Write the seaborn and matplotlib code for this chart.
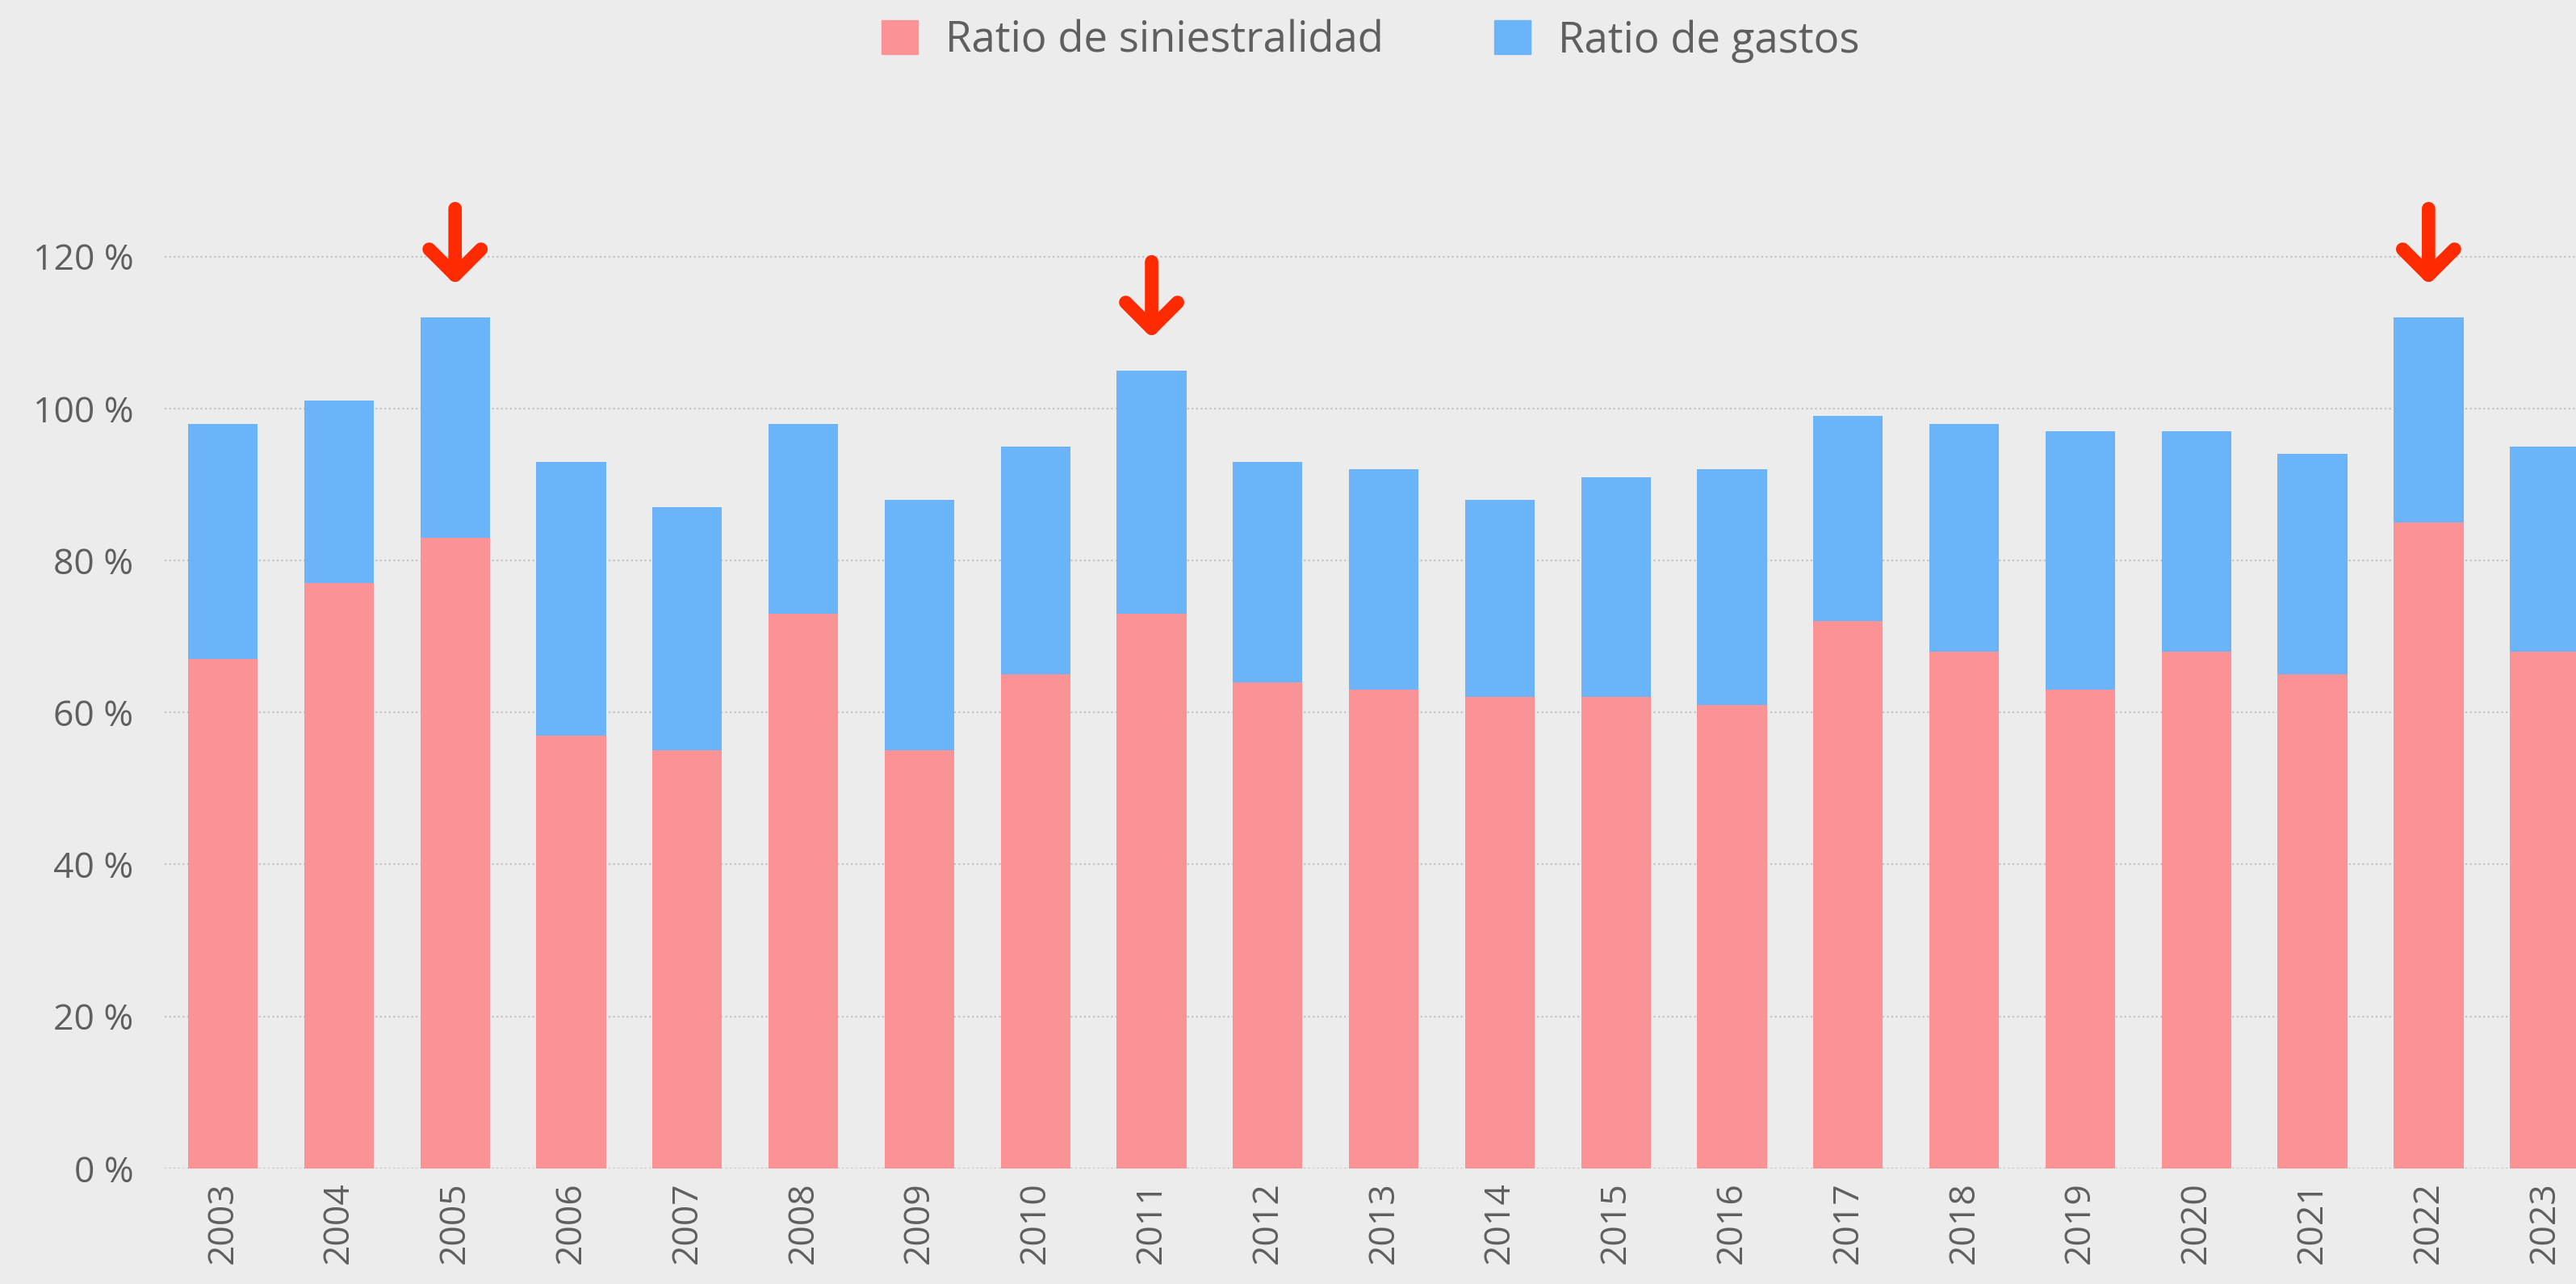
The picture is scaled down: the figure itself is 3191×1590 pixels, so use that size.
import matplotlib
matplotlib.use("Agg")
import matplotlib.pyplot as plt
import seaborn as sns
import pandas as pd
from matplotlib.patches import Patch

years = [str(y) for y in range(2003, 2024)]
siniestralidad = [67, 77, 83, 57, 55, 73, 55, 65, 73, 64, 63, 62, 62, 61, 72, 68, 63, 68, 65, 85, 68]
gastos = [31, 24, 29, 36, 32, 25, 33, 30, 32, 29, 29, 26, 29, 31, 27, 30, 34, 29, 29, 27, 27]
marked_years = ["2005", "2011", "2022"]
y_ticks = [0, 20, 40, 60, 80, 100, 120]

RED = "#fb9396"
BLUE = "#6cb4f9"
ARROW = "#ff2a00"
BG = "#ececec"
TXT = "#5f5f5f"

sns.set_theme(style="white")
plt.rcParams["font.family"] = ["Open Sans", "DejaVu Sans"]

df = pd.DataFrame({"year": years, "sin": siniestralidad, "gas": gastos})
df["total"] = df["sin"] + df["gas"]

fig = plt.figure(figsize=(31.91, 15.90), dpi=100, facecolor=BG)
ax = fig.add_axes([0.064, 0.090, 0.936, 0.799])
ax.set_facecolor(BG)

# blue on top: draw the full stack first, then the red part over it
sns.barplot(data=df, x="year", y="total", color=BLUE, width=0.6, saturation=1,
            linewidth=0, ax=ax, zorder=3)
sns.barplot(data=df, x="year", y="sin", color=RED, width=0.6, saturation=1,
            linewidth=0, ax=ax, zorder=4)

# arrows over the peak years
for yr in marked_years:
    i = years.index(yr)
    top = df["total"].iloc[i]
    ax.annotate("", xy=(i, top + 4.3), xytext=(i, top + 14.3),
                arrowprops=dict(arrowstyle="->,head_length=0.42,head_width=0.42",
                                color=ARROW, lw=12, mutation_scale=55,
                                shrinkA=0, shrinkB=0, capstyle="round", joinstyle="round"),
                zorder=6)

ax.set_xlim(-0.5, 20.27)
ax.set_ylim(0, 135)
ax.set_yticks(y_ticks)
ax.set_yticklabels([f"{v} %" for v in y_ticks])
ax.yaxis.grid(True, linestyle=(0, (1, 1.5)), color="#c4c4c4", linewidth=1.6, zorder=0)
ax.set_axisbelow(True)
ax.tick_params(axis="y", length=0, pad=28, labelsize=32, labelcolor=TXT)
ax.tick_params(axis="x", length=0, pad=12, labelsize=32, labelcolor=TXT, labelrotation=90)
ax.set_xlabel("")
ax.set_ylabel("")
for s in ax.spines.values():
    s.set_visible(False)

handles = [Patch(color=RED, label="Ratio de siniestralidad"),
           Patch(color=BLUE, label="Ratio de gastos")]
fig.legend(handles=handles, loc="center", bbox_to_anchor=(0.532, 0.968), ncol=2,
           frameon=False, fontsize=38, labelcolor=TXT, handlelength=0.85, handleheight=0.85,
           handletextpad=0.65, columnspacing=2.6)

fig.savefig("out.png", dpi=100, facecolor=BG)
